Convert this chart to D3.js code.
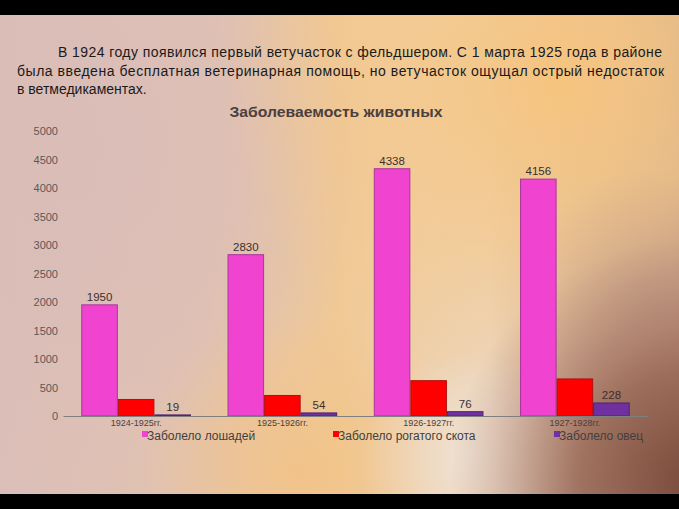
<!DOCTYPE html>
<html>
<head>
<meta charset="utf-8">
<script src="https://cdn.jsdelivr.net/npm/d3@7"></script>
<style>
  html, body { margin: 0; padding: 0; background: #000; }
  svg { display: block; }
</style>
</head>
<body>
<svg id="chart" width="679" height="509"></svg>
<script>
// ---- Data ----
const categories = ["1924-1925гг.", "1925-1926гг.", "1926-1927гг.", "1927-1928гг."];
const seriesNames = ["Заболело лошадей", "Заболело рогатого скота", "Заболело овец"];
const horses = [1950, 2830, 4338, 4156];
const cattle = [290, 360, 620, 650];
const sheep = [19, 54, 76, 228];
const yTicks = [0, 500, 1000, 1500, 2000, 2500, 3000, 3500, 4000, 4500, 5000];
const titleText = "Заболеваемость животных";
const paragraph = [
  "В 1924 году появился первый ветучасток с фельдшером. С 1 марта 1925 года в районе",
  "была введена бесплатная ветеринарная помощь, но ветучасток  ощущал острый недостаток",
  "в ветмедикаментах."
];

const seriesValues = [horses, cattle, sheep];
const colors = ["#ef43d0", "#ff0000", "#7030a0"];
const strokes = ["#a8379a", "#b01010", "#4e2378"];
const showLabel = [true, false, true];

const W = 679, H = 509;
const svg = d3.select("#chart");
const defs = svg.append("defs");

// ---- Background ----
function radial(id, cx, cy, r, stops) {
  const g = defs.append("radialGradient").attr("id", id)
    .attr("gradientUnits", "userSpaceOnUse")
    .attr("cx", cx).attr("cy", cy).attr("r", r);
  stops.forEach(s => g.append("stop").attr("offset", s[0]).attr("stop-color", s[1]).attr("stop-opacity", s[2]));
}
const lin = defs.append("linearGradient").attr("id", "bgLin")
  .attr("gradientUnits", "userSpaceOnUse").attr("x1", 0).attr("y1", 0).attr("x2", W).attr("y2", 0);
[[0, "#dbbeb8"], [0.3, "#e2c3b0"], [0.5, "#f0c995"], [0.72, "#ecd6bf"], [0.85, "#d2b39f"], [1, "#b89080"]]
  .forEach(s => lin.append("stop").attr("offset", s[0]).attr("stop-color", s[1]));
svg.append("rect").attr("width", W).attr("height", H).attr("fill", "url(#bgLin)");

radial("gOrange", 560, 80, 330, [[0, "#f6c47e", 1], [0.5, "#f4c88c", 0.75], [1, "#f4c88c", 0]]);
radial("gOrange2", 300, 470, 160, [[0, "#f2c388", 0.9], [1, "#f2c388", 0]]);
radial("gPink", 60, 150, 320, [[0, "#dbbdb8", 1], [0.6, "#dbbdb8", 0.6], [1, "#dbbdb8", 0]]);
radial("gLight", 470, 460, 110, [[0, "#efe2d4", 0.95], [1, "#efe2d4", 0]]);
radial("gBrown", 690, 480, 240, [[0, "#7a4a3a", 1], [0.45, "#966654", 0.85], [1, "#b08070", 0]]);
radial("gBrown2", 650, 300, 130, [[0, "#b89484", 0.55], [1, "#b89484", 0]]);
["gPink", "gOrange", "gOrange2", "gLight", "gBrown2", "gBrown"].forEach(id =>
  svg.append("rect").attr("width", W).attr("height", H).attr("fill", `url(#${id})`));

// black bars top and bottom
svg.append("rect").attr("x", 0).attr("y", 0).attr("width", W).attr("height", 15).attr("fill", "#000");
svg.append("rect").attr("x", 0).attr("y", 494).attr("width", W).attr("height", 15).attr("fill", "#000");

// ---- Paragraph ----
const para = svg.append("g").attr("font-family", "'Liberation Sans', Arial, sans-serif")
  .attr("font-size", 14).attr("fill", "#1a1a1a");
const paraX = [58, 17, 17], paraY = [57, 76, 94], paraLen = [604, 647, null];
paragraph.forEach((t, i) => {
  const tx = para.append("text").attr("x", paraX[i]).attr("y", paraY[i]).text(t);
  if (paraLen[i]) tx.attr("textLength", paraLen[i]).attr("lengthAdjust", "spacing");
});

// ---- Title ----
svg.append("text").attr("x", 336).attr("y", 117).attr("text-anchor", "middle")
  .attr("font-family", "'Liberation Sans', Arial, sans-serif").attr("font-weight", "bold")
  .attr("font-size", 15).attr("fill", "#4a4040")
  .attr("textLength", 213).attr("lengthAdjust", "spacingAndGlyphs")
  .text(titleText);

// ---- Scales ----
const x0 = d3.scaleBand().domain(categories).range([63, 648]).padding(0);
const x1 = d3.scaleBand().domain(seriesNames).range([0, x0.bandwidth()]).paddingInner(0).paddingOuter(0.5);
const y = d3.scaleLinear().domain([0, 5000]).range([416, 131]);

// Y axis labels (no line/ticks)
const yAxis = d3.axisLeft(y).tickValues(yTicks).tickSize(0).tickPadding(0).tickFormat(d3.format("d"));
const yg = svg.append("g").attr("transform", "translate(58,0)").call(yAxis);
yg.select(".domain").remove();
yg.selectAll("text").attr("font-family", "'Liberation Sans', Arial, sans-serif")
  .attr("font-size", 11).attr("fill", "#595959");

// ---- Bars ----
const groups = svg.append("g").selectAll("g").data(categories).join("g")
  .attr("transform", d => `translate(${x0(d)},0)`);
seriesNames.forEach((s, si) => {
  groups.append("rect")
    .attr("x", x1(s) + 0.5)
    .attr("y", (d, i) => y(seriesValues[si][i]))
    .attr("width", x1.bandwidth() - 1)
    .attr("height", (d, i) => y(0) - y(seriesValues[si][i]))
    .attr("fill", colors[si]).attr("stroke", strokes[si]).attr("stroke-width", 1);
  if (showLabel[si]) {
    groups.append("text")
      .attr("x", x1(s) + x1.bandwidth() / 2)
      .attr("y", (d, i) => y(seriesValues[si][i]) - 4)
      .attr("text-anchor", "middle")
      .attr("font-family", "'Liberation Sans', Arial, sans-serif")
      .attr("font-size", 11.5).attr("fill", "#3a3030")
      .text((d, i) => seriesValues[si][i]);
  }
});

// baseline
const xAxis = d3.axisBottom(x0).tickSize(0).tickPadding(0);
const xg = svg.append("g").attr("transform", `translate(0,${y(0)})`).call(xAxis);
xg.select(".domain").attr("stroke", "#7f7f7f").attr("stroke-width", 1.2);
xg.selectAll("text").attr("dy", 0).attr("y", 10)
  .attr("font-family", "'Liberation Sans', Arial, sans-serif")
  .attr("font-size", 9).attr("fill", "#4a4040");

// ---- Legend ----
const legX = [142, 333, 554];
const leg = svg.append("g").selectAll("g").data(seriesNames).join("g")
  .attr("transform", (d, i) => `translate(${legX[i]},0)`);
leg.append("rect").attr("x", 0).attr("y", 431).attr("width", 6).attr("height", 6)
  .attr("fill", (d, i) => colors[i]);
leg.append("text").attr("x", 5).attr("y", 439.5)
  .attr("font-family", "'Liberation Sans', Arial, sans-serif")
  .attr("font-size", 12).attr("fill", "#404040")
  .text(d => d);
</script>
</body>
</html>
